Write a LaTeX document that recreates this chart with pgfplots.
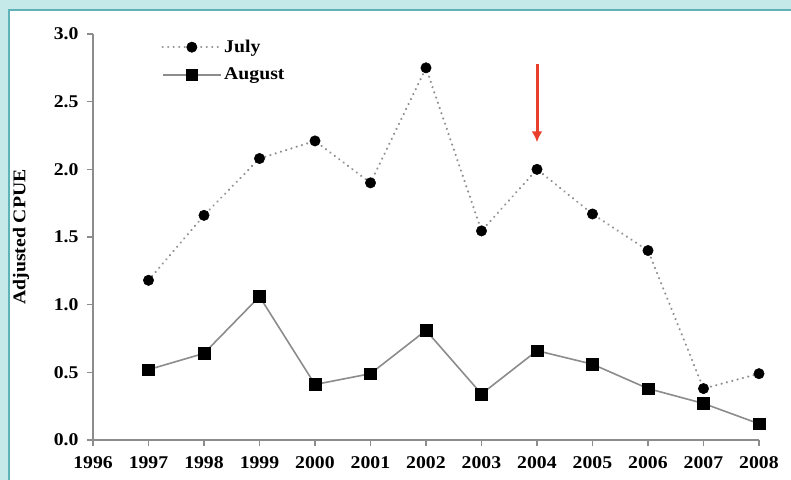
\documentclass[border=0pt]{standalone}
\usepackage{fontspec}
\setmainfont{Liberation Serif}[FakeStretch=1.1]
\usepackage{pgfplots}
\pgfplotsset{compat=1.18}
\usetikzlibrary{arrows.meta}
\definecolor{tealbg}{HTML}{C4E9E8}
\definecolor{tealline}{HTML}{5FB3B8}
\definecolor{arrowred}{HTML}{E8402A}
\definecolor{lgray}{HTML}{8C8C8C}
\definecolor{dgray}{HTML}{8F8F8F}
\newcommand{\bigf}{\fontsize{18}{21}\selectfont\bfseries}
\begin{document}
\begin{tikzpicture}
\useasboundingbox (0,0) rectangle (791bp,480bp);
\fill[tealbg] (0,0) rectangle (791bp,480bp);
\fill[white] (8bp,0) rectangle (791bp,470bp);
\draw[tealline, line width=2bp] (9bp,0) -- (9bp,470bp) -- (791bp,470bp);
\begin{axis}[
  at={(93bp,40bp)}, anchor=south west,
  scale only axis, width=666bp, height=406bp,
  xmin=1996, xmax=2008, ymin=0, ymax=3,
  axis x line*=bottom, axis y line*=left,
  axis line style={lgray, line width=1.3bp, -},
  xtick={1996,...,2008},
  ytick={0,0.5,...,3.0},
  tick align=outside, major tick length=6bp,
  tick style={lgray, line width=1.2bp},
  /pgf/number format/assume math mode=true,
  xticklabel style={/pgf/number format/set thousands separator={}, font=\bigf, yshift=-7bp},
  yticklabel style={/pgf/number format/.cd, fixed, fixed zerofill, precision=1, /tikz/.cd, font=\bigf, xshift=-5bp},
  ylabel={Adjusted CPUE},
  ylabel style={font=\bigf, at={(axis description cs:-0.108,0.5)}, anchor=center},
  legend style={draw=none, fill=none, font=\bigf, at={(axis description cs:0.098,0.995)}, anchor=north west, row sep=10bp},
  legend cell align=left,
  legend image code/.code={\draw[mark repeat=2,mark phase=2,#1] plot coordinates {(0cm,0cm) (1.03cm,0cm) (2.06cm,0cm)};},
  clip=false,
]
\addplot[dgray, line width=2.4bp, line cap=round, dash pattern=on 0.01bp off 5.5bp, mark=*, mark options={solid, black, fill=black, line width=0.5bp}, mark size=5.2bp]
  coordinates {(1997,1.18) (1998,1.66) (1999,2.08) (2000,2.21) (2001,1.90) (2002,2.75) (2003,1.545) (2004,2.00) (2005,1.67) (2006,1.40) (2007,0.38) (2008,0.49)};
\addlegendentry{July}
\addplot[lgray, line width=1.6bp, mark=square*, mark options={solid, black, fill=black, line width=0.5bp}, mark size=5.8bp]
  coordinates {(1997,0.52) (1998,0.64) (1999,1.06) (2000,0.41) (2001,0.49) (2002,0.81) (2003,0.34) (2004,0.66) (2005,0.56) (2006,0.38) (2007,0.27) (2008,0.12)};
\addlegendentry{August}
\draw[arrowred, line width=3bp, -{Latex[length=11bp,width=11bp]}] (axis cs:2004,2.78) -- (axis cs:2004,2.2);
\end{axis}
\end{tikzpicture}
\end{document}
